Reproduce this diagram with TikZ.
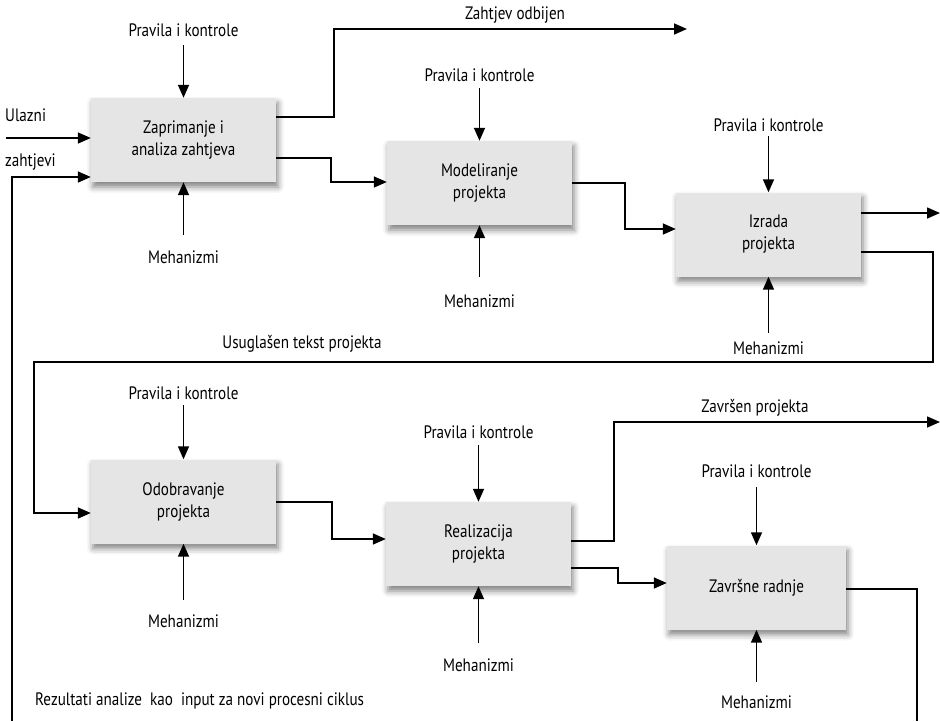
\documentclass[tikz,border=0pt]{standalone}
\usepackage{fontspec}
\setmainfont{PT Sans}[FakeStretch=0.84]
\usetikzlibrary{arrows.meta,shadows.blur}
\begin{document}
\begin{tikzpicture}[x=1pt,y=-1pt,
  font=\fontsize{18}{22}\selectfont,
  proc/.style={fill=black!10, minimum width=185pt, minimum height=84pt,
    align=center, inner sep=2pt,
    blur shadow={shadow xshift=2pt, shadow yshift=-5pt, shadow blur radius=6pt, shadow opacity=50}},
  lbl/.style={inner sep=1pt},
  flow/.style={line width=1.6pt, -{Triangle[length=13pt,width=11pt]}},
  wire/.style={line width=1.6pt}]
\useasboundingbox (0,0) rectangle (940,721);

% process boxes
\node[proc] (b1) at (183.5,140) {Zaprimanje i\\analiza zahtjeva};
\node[proc] (b2) at (479.5,183) {Modeliranje\\projekta};
\node[proc] (b3) at (768.5,234.5) {Izrada\\projekta};
\node[proc] (b4) at (183.5,501.5) {Odobravanje\\projekta};
\node[proc] (b5) at (478.5,544) {Realizacija\\projekta};
\node[proc, minimum width=179pt] (b6) at (756.5,587.5) {Završne radnje};

% controls and mechanisms
\foreach \b/\cy/\ty/\my/\mt in {b1/45/30/235/257, b2/88/75/277/301, b3/136/125/333/348,
                                 b4/405/393/600/621, b5/445/432/643/665, b6/487/471/682/702}{
  \node[lbl] (\b c) at (\b.north |- 0,\ty) {Pravila i kontrole};
  \node[lbl] (\b m) at (\b.south |- 0,\mt) {Mehanizmi};
  \coordinate (\b ct) at (\b.north |- 0,\cy);
  \coordinate (\b mt) at (\b.south |- 0,\my);
  \draw[flow] (\b ct) -- (\b.north);
  \draw[flow] (\b mt) -- (\b.south);
}

% inputs of the first process
\node[lbl, anchor=west] (ulazni) at (4,115) {Ulazni};
\node[lbl, anchor=west] (zahtjevi) at (4,162) {zahtjevi};
\coordinate (inl) at (6,138);
\draw[flow] (inl) -- (b1.west |- inl);

% rejected request
\coordinate (rej) at (687,29);
\draw[flow] (b1.east |- 0,117) -- (334,117) -- (334,29) -- (rej);
\node[lbl] (odbijen) at (515,15) {Zahtjev odbijen};

% main chain
\draw[flow] (b1.east |- 0,158) -- (331,158) -- (331,182) -- (b2.west |- 0,182);
\draw[flow] (b2.east |- 0,183) -- (625,183) -- (625,229) -- (b3.west |- 0,229);
\coordinate (out3) at (940,213);
\draw[flow] (b3.east |- out3) -- (out3);
\draw[flow] (b3.east |- 0,252) -- (933,252) -- (933,362) -- (34,362) -- (34,513) -- (b4.west |- 0,513);
\node[lbl] (usuglasen) at (302,344) {Usuglašen tekst projekta};
\draw[flow] (b4.east |- 0,502) -- (332,502) -- (332,539) -- (b5.west |- 0,539);
\coordinate (done) at (940,422);
\draw[flow] (b5.east |- 0,541) -- (614,541) -- (614,422) -- (done);
\node[lbl] (zavrsen) at (755,408) {Završen projekta};
\draw[flow] (b5.east |- 0,568) -- (618,568) -- (618,583) -- (b6.west |- 0,583);

% feedback loop into a new cycle
\coordinate (fbl) at (12,721);
\coordinate (fbr) at (917,721);
\draw[flow] (fbl) -- (12,177) -- (b1.west |- 0,177);
\draw[wire] (b6.east |- 0,589) -- (917,589) -- (fbr);
\node[lbl, anchor=west] (rezultati) at (34,701) {Rezultati analize\ \ kao\ \ input za novi procesni ciklus};
\end{tikzpicture}
\end{document}
